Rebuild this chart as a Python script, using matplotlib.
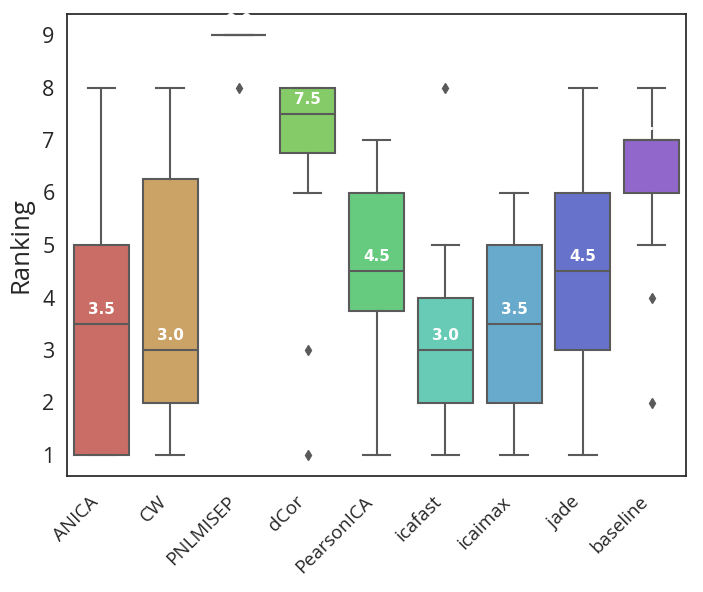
import colorsys
import numpy as np
import matplotlib
matplotlib.use("Agg")
import matplotlib.pyplot as plt

methods = ["ANICA", "CW", "PNLMISEP", "dCor", "PearsonICA",
           "icafast", "icaimax", "jade", "baseline"]

# ranking of each method over the datasets
anica = [1, 1, 1, 1, 1, 2, 3, 3, 4, 4, 5, 5, 5, 6, 7, 8]
cw = [1, 1, 2, 2, 2, 2, 3, 3, 3, 4, 5, 6, 7, 7, 8, 8]
pnlmisep = [8, 9, 9, 9, 9, 9, 9, 9, 9, 9, 9, 9, 9, 9, 9, 9]
dcor = [1, 3, 6, 6, 7, 7, 7, 7, 8, 8, 8, 8, 8, 8, 8, 8]
pearsonica = [1, 2, 2, 3, 4, 4, 4, 4, 5, 5, 5, 6, 6, 6, 7, 7]
icafast = [1, 1, 1, 2, 2, 2, 3, 3, 3, 3, 4, 4, 4, 5, 5, 8]
icaimax = [1, 1, 1, 2, 2, 3, 3, 3, 4, 4, 5, 5, 5, 6, 6, 6]
jade = [1, 2, 2, 3, 3, 4, 4, 4, 5, 5, 6, 6, 6, 7, 7, 8]
baseline = [2, 4, 5, 6, 6, 6, 6, 7, 7, 7, 7, 7, 7, 8, 8, 8]

rankings = [anica, cw, pnlmisep, dcor, pearsonica,
            icafast, icaimax, jade, baseline]


def get_palette(n):
    """hls palette, desaturated like seaborn boxes."""
    hues = (np.linspace(0, 1, n + 1)[:-1] + .01) % 1
    cols = []
    for h in hues:
        r, g, b = colorsys.hls_to_rgb(h, .6, .65)
        hh, ll, ss = colorsys.rgb_to_hls(r, g, b)
        cols.append(colorsys.hls_to_rgb(hh, ll, ss * .75))
    return cols


colors = get_palette(11)
gray = "#5a5a5a"
font = "Open Sans"

fig = plt.figure(figsize=(7.03, 5.92), dpi=100)
ax = fig.add_axes([67 / 703, 1 - 476 / 592, 619 / 703, 462 / 592])

pos = np.arange(len(methods))
bp = ax.boxplot(rankings, positions=pos, widths=.8, patch_artist=True,
                boxprops=dict(edgecolor=gray, linewidth=1.5),
                whiskerprops=dict(color=gray, linewidth=1.5),
                capprops=dict(color=gray, linewidth=1.5),
                medianprops=dict(color=gray, linewidth=1.5),
                flierprops=dict(marker="d", markerfacecolor=gray,
                                markeredgecolor=gray, markersize=5))
for patch, c in zip(bp["boxes"], colors):
    patch.set_facecolor(c)

for i, r in enumerate(rankings):
    med = np.median(r)
    ax.text(i, med + .28, f"{med:.1f}", ha="center", va="center",
            color="white", fontweight="bold", fontsize=11,
            family="DejaVu Sans")

ax.set_xlim(-.5, len(methods) - .5)
ax.set_ylim(.6, 9.4)
ax.set_yticks(np.arange(1, 10))
ax.set_yticklabels([str(v) for v in range(1, 10)], fontsize=15.5,
                   family=font, color="#262626")
ax.set_xticks(pos)
ax.set_xticklabels(methods, rotation=45, ha="right", fontsize=13.5,
                   family=font, color="#262626")
ax.tick_params(axis="y", length=0, pad=9)
ax.tick_params(axis="x", length=0, pad=12)
ax.set_ylabel("Ranking", fontsize=18.5, family=font, color="#262626",
              labelpad=6)
for s in ax.spines.values():
    s.set_color("#262626")
    s.set_linewidth(1.25)

plt.savefig("out.png", dpi=100)
plt.close()
